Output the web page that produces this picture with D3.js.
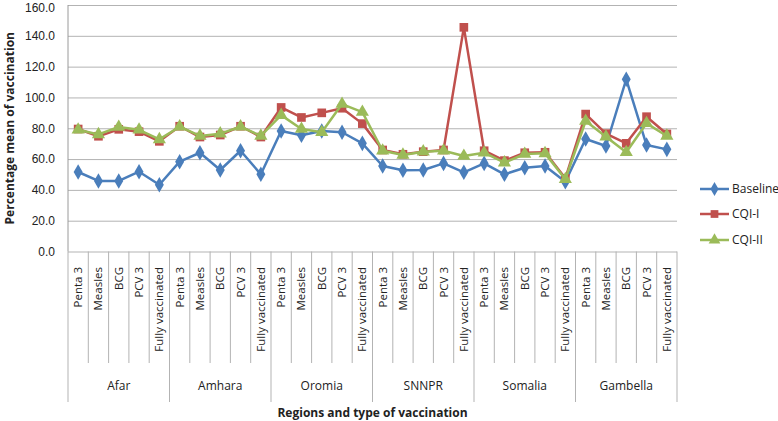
<!DOCTYPE html>
<html>
<head>
<meta charset="utf-8">
<script src="https://cdn.jsdelivr.net/npm/d3@7"></script>
<style>
  body { margin: 0; background: #fff; }
  svg { font-family: 'Open Sans', 'Liberation Sans', sans-serif; }
</style>
</head>
<body>
<svg id="chart" width="778" height="421"></svg>
<script>
// Data
var regions = ['Afar', 'Amhara', 'Oromia', 'SNNPR', 'Somalia', 'Gambella']
var vaccines = ['Penta 3', 'Measles', 'BCG', 'PCV 3', 'Fully vaccinated']
var yTicks = [0, 20, 40, 60, 80, 100, 120, 140, 160]

var baseline = [51.6, 45.8, 45.8, 51.8, 43.3,
  58.3, 64.1, 52.9, 65.4, 50.1,
  78.2, 75.5, 78.2, 77.4, 70.2,
  55.5, 52.7, 52.9, 57.2, 51.4,
  57.2, 50.1, 54.4, 55.5, 45.3,
  73.0, 68.5, 111.8, 69.1, 66.3]
var cqi1 = [79.5, 74.8, 79.3, 77.8, 71.5,
  81.3, 74.3, 75.6, 81.3, 74.3,
  93.5, 87.0, 90.0, 93.0, 83.0,
  65.9, 63.1, 64.8, 65.9, 145.5,
  65.4, 59.0, 64.1, 64.4, 47.5,
  89.2, 76.5, 70.2, 87.5, 76.3]
var cqi2 = [79.0, 76.0, 80.8, 79.0, 72.8,
  81.0, 75.0, 76.5, 81.0, 75.0,
  88.5, 79.5, 77.4, 95.7, 90.5,
  65.4, 62.7, 64.8, 65.4, 62.0,
  64.1, 57.7, 63.3, 63.7, 46.9,
  84.7, 74.5, 64.4, 83.2, 75.0]

var seriesNames = ['Baseline', 'CQI-I', 'CQI-II']
var seriesValues = [baseline, cqi1, cqi2]
var seriesColors = ['#4a7ebb', '#c0504d', '#9bbb59']
var seriesSymbols = [d3.symbolDiamond, d3.symbolSquare, d3.symbolTriangle]
var symbolSizes = [70, 75, 75]

// Layout
var plotLeft = 68
var plotRight = 677
var plotTop = 5
var plotBottom = 251.5
var svg = d3.select('#chart')

// Categories: one per region/vaccine pair
var cats = []
regions.forEach(function (r, ri) {
  vaccines.forEach(function (v, vi) {
    cats.push({ id: ri * vaccines.length + vi, region: r, vaccine: v, vi: vi })
  })
})

var x = d3.scaleBand()
  .domain(cats.map(function (c) { return c.id }))
  .range([plotLeft, plotRight])
var y = d3.scaleLinear().domain([0, 160]).range([plotBottom, plotTop])

// Gridlines + y labels
var yAxis = d3.axisLeft(y)
  .tickValues(yTicks)
  .tickSize(-(plotRight - plotLeft))
  .tickFormat(d3.format('.1f'))
  .tickPadding(13)
var gy = svg.append('g')
  .attr('transform', 'translate(' + plotLeft + ',0)')
  .call(yAxis)
gy.select('.domain').remove()
gy.selectAll('.tick line').attr('stroke', '#b3b3b3').attr('stroke-width', 1)
gy.selectAll('.tick text').attr('fill', '#222').style('font-size', '12px')
// keep the top label inside the page
gy.selectAll('.tick text').filter(function (d) { return d === 160 }).attr('dy', '0.5em')

// Vertical axis line
svg.append('line')
  .attr('x1', plotLeft).attr('x2', plotLeft)
  .attr('y1', plotTop).attr('y2', plotBottom)
  .attr('stroke', '#9a9a9a')

// X axis separators
var sepShort = 363
var sepLong = 402
var bw = x.bandwidth()
for (var i = 0; i <= cats.length; i++) {
  var xs = i < cats.length ? x(i) : plotRight
  var isGroup = i % vaccines.length === 0
  svg.append('line')
    .attr('x1', xs).attr('x2', xs)
    .attr('y1', plotBottom).attr('y2', isGroup ? sepLong : sepShort)
    .attr('stroke', '#b3b3b3')
}

// Category labels (rotated)
svg.selectAll('.cat-label')
  .data(cats)
  .enter().append('text')
  .attr('class', 'cat-label')
  .attr('transform', function (d) {
    return 'translate(' + (x(d.id) + bw / 2 + 4) + ',267) rotate(-90)'
  })
  .attr('text-anchor', 'end')
  .attr('fill', '#222')
  .style('font-size', '11.5px')
  .text(function (d) { return d.vaccine })

// Region labels
svg.selectAll('.region-label')
  .data(regions)
  .enter().append('text')
  .attr('class', 'region-label')
  .attr('x', function (d, i) {
    var a = x(i * vaccines.length)
    return a + bw * vaccines.length / 2
  })
  .attr('y', 390)
  .attr('text-anchor', 'middle')
  .attr('fill', '#222')
  .style('font-size', '12px')
  .text(function (d) { return d })

// Axis titles
svg.append('text')
  .attr('x', (plotLeft + plotRight) / 2)
  .attr('y', 417)
  .attr('text-anchor', 'middle')
  .attr('font-weight', 'bold')
  .attr('fill', '#222')
  .style('font-size', '12px')
  .text('Regions and type of vaccination')

svg.append('text')
  .attr('transform', 'translate(14,' + ((plotTop + plotBottom) / 2 + 0) + ') rotate(-90)')
  .attr('text-anchor', 'middle')
  .attr('font-weight', 'bold')
  .attr('fill', '#222')
  .style('font-size', '12px')
  .text('Percentage mean of vaccination')

// Series lines and markers
var line = d3.line()
  .x(function (d, i) { return x(i) + bw / 2 })
  .y(function (d) { return y(d) })

seriesValues.forEach(function (vals, si) {
  var g = svg.append('g')
  g.append('path')
    .datum(vals)
    .attr('d', line)
    .attr('fill', 'none')
    .attr('stroke', seriesColors[si])
    .attr('stroke-width', 2.5)
    .attr('stroke-linejoin', 'round')
  g.selectAll('path.marker')
    .data(vals)
    .enter().append('path')
    .attr('class', 'marker')
    .attr('d', d3.symbol().type(seriesSymbols[si]).size(symbolSizes[si]))
    .attr('transform', function (d, i) {
      return 'translate(' + (x(i) + bw / 2) + ',' + y(d) + ')'
    })
    .attr('fill', seriesColors[si])
})

// Legend
var legendY = [189, 214, 240]
seriesNames.forEach(function (name, si) {
  var lg = svg.append('g').attr('transform', 'translate(700,' + legendY[si] + ')')
  lg.append('line')
    .attr('x1', 0).attr('x2', 29)
    .attr('stroke', seriesColors[si]).attr('stroke-width', 2.5)
  lg.append('path')
    .attr('d', d3.symbol().type(seriesSymbols[si]).size(symbolSizes[si] * 0.8))
    .attr('transform', 'translate(14.5,0)')
    .attr('fill', seriesColors[si])
  lg.append('text')
    .attr('x', 32).attr('y', 4)
    .attr('fill', '#222')
    .style('font-size', '12px')
    .text(name)
})
</script>
</body>
</html>
